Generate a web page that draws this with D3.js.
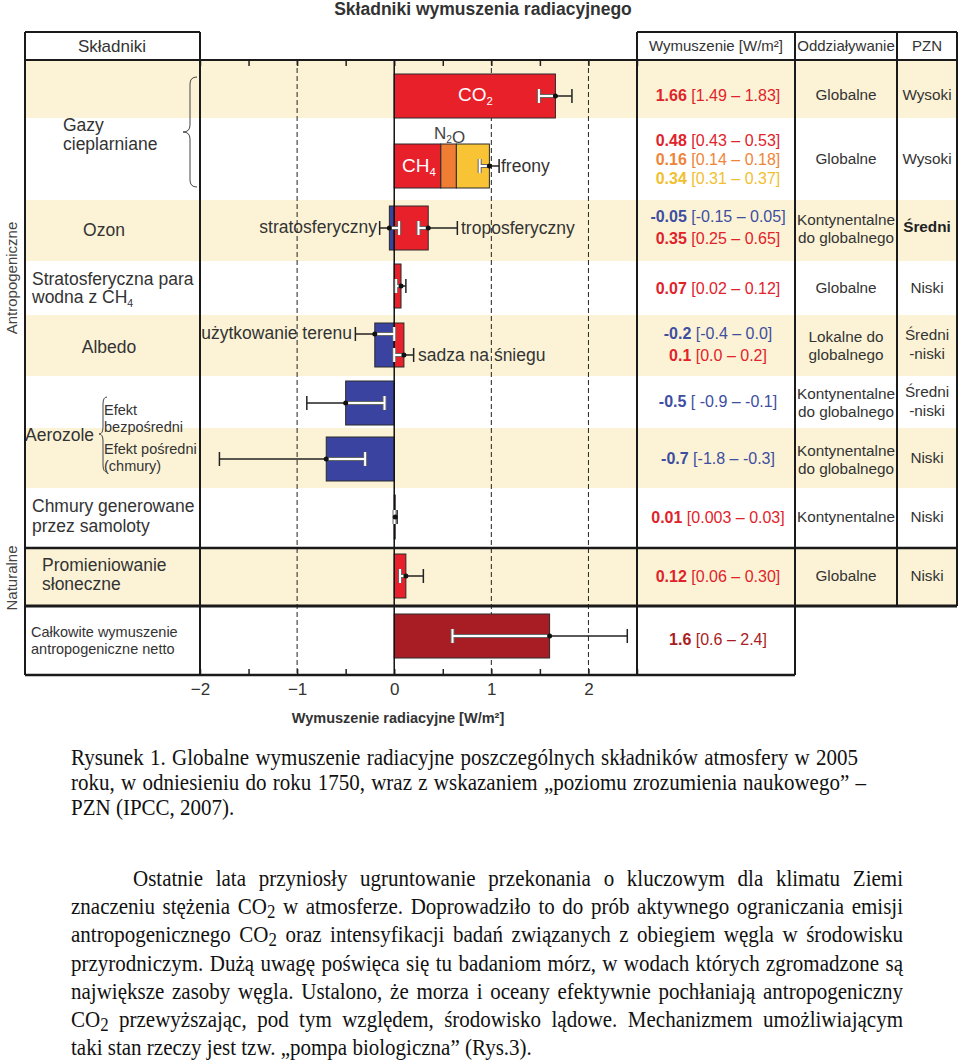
<!DOCTYPE html>
<html lang="pl">
<head>
<meta charset="utf-8">
<script src="https://cdn.jsdelivr.net/npm/d3@7"></script>
<style>
  body { margin: 0; background: #fff; }
  #page { position: relative; width: 960px; height: 1062px; overflow: hidden; }
  #page svg { position: absolute; left: 0; top: 0; }
  #page svg text { font-family: "Liberation Sans", Arial, sans-serif; fill: #333; }
  .line {
    position: absolute;
    font-family: "Liberation Serif", "Times New Roman", serif;
    font-size: 21px;
    line-height: 25px;
    color: #111;
    white-space: nowrap;
    transform: scaleY(1.12);
    transform-origin: 0 19px;
  }
  .line sub { font-size: 0.8em; vertical-align: -0.2em; line-height: 0; }
</style>
</head>
<body>
<div id="page"></div>
<script>
// ---- data ----
const components = ["CO2", "CH4", "N2O", "freony", "O3strat", "O3trop", "H2Ostrat", "landUse", "soot", "aerDirect", "aerCloud", "contrails", "solar", "total"];
const componentRow = [0, 1, 1, 1, 2, 2, 3, 4, 4, 5, 6, 7, 8, 9];
const forcing = [1.66, 0.48, 0.16, 0.34, -0.05, 0.35, 0.07, -0.2, 0.1, -0.5, -0.7, 0.01, 0.12, 1.6];
const forcingLow = [1.49, 0.43, 0.14, 0.31, -0.15, 0.25, 0.02, -0.4, 0.0, -0.9, -1.8, 0.003, 0.06, 0.6];
const forcingHigh = [1.83, 0.53, 0.18, 0.37, 0.05, 0.65, 0.12, 0.0, 0.2, -0.1, -0.3, 0.03, 0.30, 2.4];
const forcingText = ["1.66", "0.48", "0.16", "0.34", "-0.05", "0.35", "0.07", "-0.2", "0.1", "-0.5", "-0.7", "0.01", "0.12", "1.6"];
const rangeText = ["[1.49 \u2013 1.83]", "[0.43 \u2013 0.53]", "[0.14 \u2013 0.18]", "[0.31 \u2013 0.37]", "[-0.15 \u2013 0.05]", "[0.25 \u2013 0.65]", "[0.02 \u2013 0.12]", "[-0.4 \u2013 0.0]", "[0.0 \u2013 0.2]", "[ -0.9 \u2013 -0.1]", "[-1.8 \u2013 -0.3]", "[0.003 \u2013 0.03]", "[0.06 \u2013 0.30]", "[0.6 \u2013 2.4]"];

const scopeText = [["Globalne"], ["Globalne"], ["Kontynentalne", "do globalnego"], ["Globalne"], ["Lokalne do", "globalnego"], ["Kontynentalne", "do globalnego"], ["Kontynentalne", "do globalnego"], ["Kontynentalne"], ["Globalne"], []];
const levelText = [["Wysoki"], ["Wysoki"], ["Średni"], ["Niski"], ["Średni", "-niski"], ["Średni", "-niski"], ["Niski"], ["Niski"], ["Niski"], []];

const axisLabelTicks = [-2, -1, 0, 1, 2];
const dashedTicks = [-1, 1, 2];

const captionLines = [
  "Rysunek 1. Globalne wymuszenie radiacyjne poszczególnych składników atmosfery w 2005",
  "roku, w odniesieniu do roku 1750, wraz z wskazaniem „poziomu zrozumienia naukowego” –",
  "PZN (IPCC, 2007)."
];
const paragraphLines = [
  "Ostatnie lata przyniosły ugruntowanie przekonania o kluczowym dla klimatu Ziemi",
  "znaczeniu stężenia CO<sub>2</sub> w atmosferze. Doprowadziło to do prób aktywnego ograniczania emisji",
  "antropogenicznego CO<sub>2</sub> oraz intensyfikacji badań związanych z obiegiem węgla w środowisku",
  "przyrodniczym. Dużą uwagę poświęca się tu badaniom mórz, w wodach których zgromadzone są",
  "największe zasoby węgla. Ustalono, że morza i oceany efektywnie pochłaniają antropogeniczny",
  "CO<sub>2</sub> przewyższając, pod tym względem, środowisko lądowe. Mechanizmem umożliwiającym",
  "taki stan rzeczy jest tzw. „pompa biologiczna” (Rys.3)."
];

// ---- layout & styles ----
const rowEdges = [60, 118, 200, 261, 315, 376, 428, 488, 548, 606, 675];
const barCenter = [96, 166, 228, 286, 345, 403, 459, 517, 576, 636];
const rowTextY = [95, 159, 227, 288, 344, 401, 458, 517, 576, 639];
const barHeight = 44;
const errOffset = { landUse: -11, soot: 10 };
const cream = "#fcf3d6";
const RED = "#e8202a", BLUE = "#3a44a0";
const barFill = { CO2: RED, CH4: RED, N2O: "#ef7d33", freony: "#f8c435", O3strat: BLUE, O3trop: RED, H2Ostrat: RED, landUse: BLUE, soot: RED, aerDirect: BLUE, aerCloud: BLUE, contrails: RED, solar: RED, total: "#a81d23" };
const textFill = { CO2: "#e0232b", CH4: "#e0232b", N2O: "#ee8439", freony: "#f2bf30", O3strat: "#3e4ea0", O3trop: "#e0232b", H2Ostrat: "#e0232b", landUse: "#3e4ea0", soot: "#e0232b", aerDirect: "#3e4ea0", aerCloud: "#3e4ea0", contrails: "#e0232b", solar: "#e0232b", total: "#a81d23" };

const W = 960, H = 1062;
const svg = d3.select("#page").append("svg").attr("width", W).attr("height", H);
const x = d3.scaleLinear().domain([-2, 2.5]).range([200, 637]);
const chartTop = rowEdges[0], chartBottom = rowEdges[rowEdges.length - 1];

// cream stripes
svg.append("g")
  .selectAll("rect")
  .data(d3.range(10).filter((i) => i % 2 === 0))
  .join("rect")
  .attr("x", 25)
  .attr("y", (i) => rowEdges[i])
  .attr("width", 932)
  .attr("height", (i) => rowEdges[i + 1] - rowEdges[i])
  .attr("fill", cream);

// dashed reference lines
svg.append("g")
  .selectAll("line")
  .data(dashedTicks)
  .join("line")
  .attr("x1", (d) => x(d)).attr("x2", (d) => x(d))
  .attr("y1", chartTop).attr("y2", chartBottom)
  .attr("stroke", "#222").attr("stroke-width", 1).attr("stroke-dasharray", "5,3");

// inward ticks top and bottom
const minorTicks = d3.range(-2, 2.51, 0.5);
svg.append("g")
  .attr("transform", `translate(0, ${chartTop})`)
  .call(d3.axisBottom(x).tickValues(minorTicks).tickSize(6).tickFormat(""))
  .call((g) => g.select(".domain").remove())
  .call((g) => g.selectAll("line").attr("stroke", "#222").attr("stroke-width", 1.5));
svg.append("g")
  .attr("transform", `translate(0, ${chartBottom})`)
  .call(d3.axisTop(x).tickValues(minorTicks).tickSize(6).tickFormat(""))
  .call((g) => g.select(".domain").remove())
  .call((g) => g.selectAll("line").attr("stroke", "#222").attr("stroke-width", 1.5));
svg.append("g")
  .attr("transform", `translate(0, ${chartBottom})`)
  .call(d3.axisBottom(x).tickValues(axisLabelTicks).tickSize(0).tickPadding(8)
    .tickFormat((d) => (d < 0 ? "\u2212" + Math.abs(d) : String(d))))
  .call((g) => g.select(".domain").remove())
  .call((g) => g.selectAll("text").attr("font-size", 17).attr("fill", "#333")
    .style("font-family", '"Liberation Sans", Arial, sans-serif'));

svg.append("text")
  .attr("x", 398).attr("y", 718).attr("dy", "0.35em")
  .attr("text-anchor", "middle").attr("font-size", 14.5).attr("font-weight", "bold")
  .text("Wymuszenie radiacyjne [W/m²]");

// bars (stacked per row)
const barData = components.map((name, i) => ({
  name, row: componentRow[i], value: forcing[i], low: forcingLow[i], high: forcingHigh[i]
}));
const posBase = {}, negBase = {};
barData.forEach((d) => {
  const base = d.value >= 0 ? (posBase[d.row] || 0) : (negBase[d.row] || 0);
  d.x0 = base;
  d.x1 = base + d.value;
  if (d.value >= 0) posBase[d.row] = d.x1; else negBase[d.row] = d.x1;
});

svg.append("g")
  .selectAll("rect")
  .data(barData)
  .join("rect")
  .attr("x", (d) => x(Math.min(d.x0, d.x1)))
  .attr("y", (d) => barCenter[d.row] - barHeight / 2)
  .attr("width", (d) => Math.max(1, Math.abs(x(d.x1) - x(d.x0))))
  .attr("height", barHeight)
  .attr("fill", (d) => barFill[d.name])
  .attr("stroke", "#2a2a2a")
  .attr("stroke-width", 1);

// zero line
svg.append("line")
  .attr("x1", x(0)).attr("x2", x(0)).attr("y1", chartTop).attr("y2", chartBottom)
  .attr("stroke", "#111").attr("stroke-width", 1.5);

// error bars: stacked positives share one bar
const errorItems = [];
d3.group(barData, (d) => d.row).forEach((items, row) => {
  const pos = items.filter((d) => d.value >= 0);
  if (pos.length > 1) {
    errorItems.push({ name: pos[pos.length - 1].name, row, value: d3.sum(pos, (d) => d.value), low: d3.sum(pos, (d) => d.low), high: d3.sum(pos, (d) => d.high) });
    items.filter((d) => d.value < 0).forEach((d) => errorItems.push(d));
  } else {
    items.forEach((d) => errorItems.push(d));
  }
});

const capH = 14;
const errG = svg.append("g");
errorItems.forEach((d) => {
  const y = barCenter[d.row] + (errOffset[d.name] || 0);
  const inner = d.value >= 0 ? d.low : d.high;
  const outer = d.value >= 0 ? d.high : d.low;
  errG.append("line").attr("x1", x(d.value)).attr("x2", x(outer)).attr("y1", y).attr("y2", y)
    .attr("stroke", "#222").attr("stroke-width", 1.5);
  errG.append("line").attr("x1", x(outer)).attr("x2", x(outer)).attr("y1", y - capH / 2).attr("y2", y + capH / 2)
    .attr("stroke", "#222").attr("stroke-width", 1.5);
  [["#666", 4], ["#fff", 2]].forEach(([c, w]) => {
    errG.append("line").attr("x1", x(d.value)).attr("x2", x(inner)).attr("y1", y).attr("y2", y)
      .attr("stroke", c).attr("stroke-width", w);
    errG.append("line").attr("x1", x(inner)).attr("x2", x(inner)).attr("y1", y - capH / 2).attr("y2", y + capH / 2)
      .attr("stroke", c).attr("stroke-width", w);
  });
  errG.append("circle").attr("cx", x(d.value)).attr("cy", y).attr("r", 2.5).attr("fill", "#111");
});

// text helpers
function label(g, parts, px, py, opts = {}) {
  const t = g.append("text")
    .attr("x", px).attr("y", py).attr("dy", "0.35em")
    .attr("font-size", opts.size || 17)
    .attr("text-anchor", opts.anchor || "start");
  if (opts.fill) t.style("fill", opts.fill);
  if (opts.weight) t.attr("font-weight", opts.weight);
  (Array.isArray(parts) ? parts : [[parts]]).forEach(([txt, sub]) => {
    t.append("tspan").text(txt);
    if (sub) {
      t.append("tspan").attr("font-size", "0.6em").attr("dy", "0.35em").text(sub);
      t.append("tspan").attr("dy", "-0.35em").text("");
    }
  });
  return t;
}

const lab = svg.append("g");
// in-chart labels
label(lab, [["CO", "2"]], 458, 94, { size: 19, fill: "#fff" });
label(lab, [["CH", "4"]], 402, 165, { size: 19, fill: "#fff" });
label(lab, [["N", "2"], ["O"]], 434, 133, { size: 17, fill: "#444" });
label(lab, "freony", 501, 166, { size: 17.5 });
label(lab, "stratosferyczny", 377, 227, { size: 17.5, anchor: "end" });
label(lab, "troposferyczny", 461, 228, { size: 17.5 });
label(lab, "użytkowanie terenu", 352, 333, { size: 17.5, anchor: "end" });
label(lab, "sadza na śniegu", 418, 355, { size: 17.5 });

// left column labels
label(lab, "Gazy", 63, 125, { size: 17.5 });
label(lab, "cieplarniane", 63, 144, { size: 17.5 });
label(lab, "Ozon", 104, 230, { anchor: "middle", size: 17.5 });
label(lab, "Stratosferyczna para", 32, 279, { size: 17.5 });
label(lab, [["wodna z CH", "4"]], 32, 297, { size: 17.5 });
label(lab, "Albedo", 109, 347, { anchor: "middle", size: 17.5 });
label(lab, "Aerozole", 25, 435, { size: 17.5 });
label(lab, "Efekt", 104, 410, { size: 14.5 });
label(lab, "bezpośredni", 104, 427, { size: 14.5 });
label(lab, "Efekt pośredni", 104, 449, { size: 14.5 });
label(lab, "(chmury)", 104, 466, { size: 14.5 });
label(lab, "Chmury generowane", 32, 506, { size: 17.5 });
label(lab, "przez samoloty", 32, 526, { size: 17.5 });
label(lab, "Promieniowanie", 42, 565, { size: 17.5 });
label(lab, "słoneczne", 42, 584, { size: 17.5 });
label(lab, "Całkowite wymuszenie", 31, 632, { size: 14.5 });
label(lab, "antropogeniczne netto", 31, 649, { size: 14.5 });

lab.append("text").attr("transform", "translate(12,278) rotate(-90)")
  .attr("text-anchor", "middle").attr("dy", "0.35em").attr("font-size", 15).style("fill", "#444").text("Antropogeniczne");
lab.append("text").attr("transform", "translate(12,578) rotate(-90)")
  .attr("text-anchor", "middle").attr("dy", "0.35em").attr("font-size", 15).style("fill", "#444").text("Naturalne");

function brace(x1, tipX, y0, y1, ym) {
  const xm = (x1 + tipX) / 2, r = 7;
  return `M${x1},${y0} Q${xm},${y0} ${xm},${y0 + r} L${xm},${ym - r} Q${xm},${ym} ${tipX},${ym}` +
    ` Q${xm},${ym} ${xm},${ym + r} L${xm},${y1 - r} Q${xm},${y1} ${x1},${y1}`;
}
lab.append("path").attr("d", brace(197, 183, 77, 187, 132)).attr("fill", "none").attr("stroke", "#444").attr("stroke-width", 1);
lab.append("path").attr("d", brace(107, 99, 397, 472, 434)).attr("fill", "none").attr("stroke", "#444").attr("stroke-width", 1);

// title & headers
label(lab, "Składniki wymuszenia radiacyjnego", 483, 9, { size: 17.5, anchor: "middle", weight: "bold" });
label(lab, "Składniki", 112, 46, { size: 17, anchor: "middle" });
label(lab, "Wymuszenie [W/m²]", 716, 46, { size: 15, anchor: "middle" });
label(lab, "Oddziaływanie", 846, 46, { size: 15, anchor: "middle" });
label(lab, "PZN", 927, 46, { size: 15, anchor: "middle" });

// table values
const tab = svg.append("g");
d3.group(barData, (d) => d.row).forEach((items, row) => {
  const gap = items.length === 3 ? 19 : 22;
  items.forEach((d, k) => {
    const i = components.indexOf(d.name);
    const t = tab.append("text")
      .attr("x", 718).attr("y", rowTextY[row] + (k - (items.length - 1) / 2) * gap).attr("dy", "0.35em")
      .attr("text-anchor", "middle").attr("font-size", 16).style("fill", textFill[d.name]);
    t.append("tspan").attr("font-weight", "bold").text(forcingText[i]);
    t.append("tspan").text(" " + rangeText[i]);
  });
});
scopeText.forEach((lines, row) => {
  const shift = lines.length > 1 ? 2 : 0;
  lines.forEach((s, k) => label(tab, s, 846, rowTextY[row] + shift + (k - (lines.length - 1) / 2) * 18, { size: 15.3, anchor: "middle" }));
});
levelText.forEach((lines, row) => {
  lines.forEach((s, k) => label(tab, s, 927, rowTextY[row] + (k - (lines.length - 1) / 2) * 19,
    { size: 15.3, anchor: "middle", weight: row === 2 ? "bold" : null, fill: row === 2 ? "#222" : null }));
});

// frames
const fr = svg.append("g").attr("stroke", "#1a1a1a").attr("fill", "none");
const seg = (x1, y1, x2, y2, w = 2) => fr.append("line").attr("x1", x1).attr("y1", y1).attr("x2", x2).attr("y2", y2).attr("stroke-width", w);
seg(25, 32, 200, 32);
seg(637, 32, 957, 32);
seg(25, 60, 957, 60);
seg(25, 32, 25, 675);
seg(200, 32, 200, 675);
seg(637, 32, 637, 675);
seg(795, 32, 795, 675);
seg(897, 32, 897, 606);
seg(957, 32, 957, 606);
seg(25, 548, 957, 548, 2.5);
seg(25, 606, 957, 606, 3);
seg(25, 675, 795, 675, 2.5);

// caption and body text; word spacing fitted so each line ends where it does in the figure
const page = d3.select("#page");
function textLine(html, left, baseline, right) {
  const div = page.append("div").attr("class", "line")
    .style("left", `${left}px`).style("top", `${baseline - 19}px`).html(html);
  if (right) {
    const node = div.node();
    const w = node.getBoundingClientRect().width;
    const spaces = (node.textContent.match(/ /g) || []).length;
    if (spaces) div.style("word-spacing", `${(right - left - w) / spaces}px`);
  }
}
const captionEnds = [858, 866, null];
captionLines.forEach((s, i) => textLine(s, 71, 765 + i * 25, captionEnds[i]));
paragraphLines.forEach((s, i) => {
  const last = i === paragraphLines.length - 1;
  textLine(s, i === 0 ? 133 : 71, 886 + i * 28.2, last ? null : 903);
});
</script>
</body>
</html>
